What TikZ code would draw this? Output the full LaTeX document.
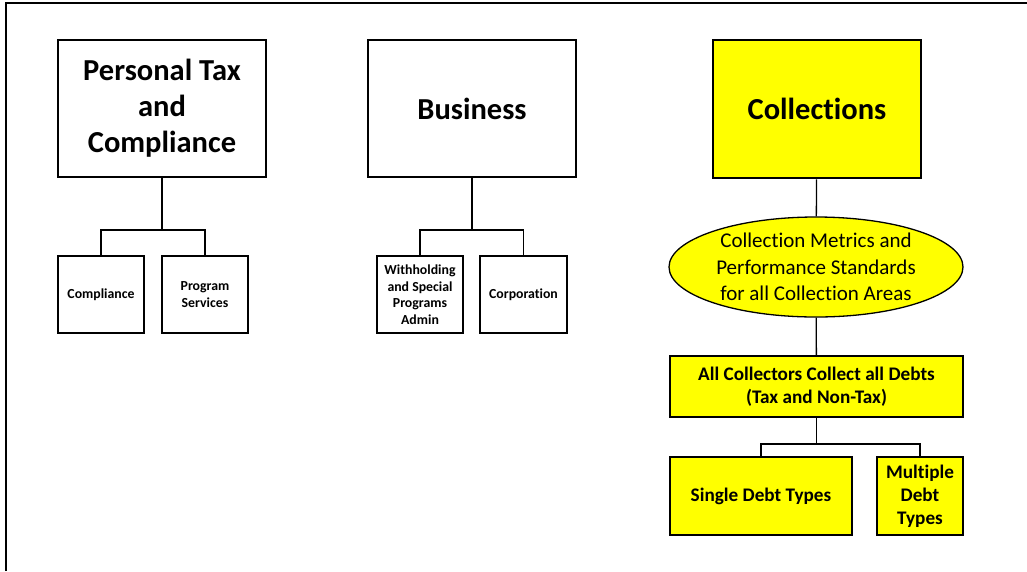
\documentclass[tikz,border=0pt]{standalone}
\usepackage{fontspec}
\setmainfont{Carlito}[Ligatures=NoCommon]
\usetikzlibrary{shapes.geometric}
\definecolor{hiyellow}{RGB}{255,255,0}
\tikzset{every node/.style={align=center, inner sep=2pt, font=\bfseries},
  headbox/.style={draw, line width=2.6pt, minimum width=208pt, minimum height=137pt, font=\fontsize{30.5}{36}\selectfont\bfseries},
  unitbox/.style={draw, line width=1.6pt, minimum width=86pt, minimum height=77pt, font=\fontsize{13.8}{16.5}\selectfont\bfseries},
  debtbox/.style={draw, fill=hiyellow, line width=1.6pt, minimum height=78pt, font=\fontsize{19.2}{23}\selectfont\bfseries},
  link/.style={line width=1.3pt}}

\begin{document}
\begin{tikzpicture}[x=1pt,y=-1pt]
   \useasboundingbox (0,0) rectangle (1027,571);
   \draw[line width=1.5pt] (6,571) -- (6,3) -- (1027,3);
   % personal tax
   \node[headbox] (ptc) at (162,108.5) {Personal Tax\\and\\Compliance};
   \node[unitbox] (comp) at (101,294.5) {Compliance};
   \node[unitbox] (prog) at (205,294.5) {Program\\Services};
   \coordinate (ptcj) at (162,230);
   \draw[link] (ptc) -- (ptcj);
   \draw[link] (comp.north) |- (ptcj) -| (prog.north);
   % business
   \node[headbox] (bus) at (472,108.5) {Business};
   \node[unitbox] (with) at (420,294.5) {Withholding\\and Special\\Programs\\Admin};
   \node[unitbox, minimum width=87pt] (corp) at (523.5,294.5) {Corporation};
   \coordinate (busj) at (472,230);
   \draw[link] (bus) -- (busj);
   \draw[link] (with.north) |- (busj) -| (corp.north);
   % collections
   \node[headbox, fill=hiyellow, minimum height=138pt] (coll) at (817,109) {Collections};
   \node[ellipse, draw, fill=hiyellow, line width=1.3pt, inner sep=0pt, minimum width=294pt, minimum height=100pt,
     font=\fontsize{21}{26.5}\selectfont] (metr) at (816,267) {Collection Metrics and\\Performance Standards\\for all Collection Areas};
   \node[draw, fill=hiyellow, line width=1.6pt, minimum width=293pt, minimum height=61pt,
     font=\fontsize{19.2}{22.5}\selectfont\bfseries] (all) at (816.5,386.5) {All Collectors Collect all Debts\\(Tax and Non-Tax)};
   \node[debtbox, minimum width=182pt] (single) at (761,496) {Single Debt Types};
   \node[debtbox, minimum width=86pt] (multi) at (920,496) {Multiple\\Debt\\Types};
   \coordinate (allj) at (816.5,444);
   \draw[link] (coll) -- (metr);
   \draw[link] (metr) -- (all);
   \draw[link] (all) -- (allj);
   \draw[link] (single.north) |- (allj) -| (multi.north);
\end{tikzpicture}
\end{document}
